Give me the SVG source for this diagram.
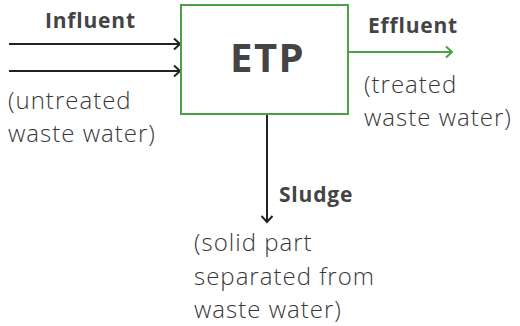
<svg xmlns="http://www.w3.org/2000/svg" width="520" height="326" viewBox="0 0 520 326">
<defs>
<style>
.lbl{font-family:"Open Sans","Noto Sans",sans-serif;font-weight:700;font-size:21px;letter-spacing:0.8px;fill:#444}
.desc{font-family:"Open Sans","Noto Sans",sans-serif;font-weight:300;font-size:24px;letter-spacing:1px;fill:#383838}
.title{font-family:"Open Sans","Noto Sans",sans-serif;font-weight:700;font-size:40px;letter-spacing:1.5px;fill:#444}
.ln{stroke:#222;stroke-width:2;fill:none}
.gln{stroke:#4ca146;stroke-width:2;fill:none}
</style>
<marker id="ah" markerUnits="userSpaceOnUse" markerWidth="12" markerHeight="14" refX="8" refY="7" orient="auto" viewBox="0 0 12 14">
<path d="M2,1.5 L8,7 L2,12.5" stroke="#222" stroke-width="2" fill="none"/>
</marker>
<marker id="ahg" markerUnits="userSpaceOnUse" markerWidth="12" markerHeight="14" refX="8" refY="7" orient="auto" viewBox="0 0 12 14">
<path d="M2,1.5 L8,7 L2,12.5" stroke="#4ca146" stroke-width="2" fill="none"/>
</marker>
</defs>
<rect width="520" height="326" fill="#fff"/>
<g id="connectors">
<line class="ln" x1="9" y1="44" x2="180" y2="44" marker-end="url(#ah)"/>
<line class="ln" x1="9" y1="71" x2="180" y2="71" marker-end="url(#ah)"/>
<line class="gln" x1="349" y1="52" x2="452" y2="52" marker-end="url(#ahg)"/>
<line class="ln" x1="267" y1="115" x2="267" y2="222" marker-end="url(#ah)"/>
</g>
<g id="etp">
<rect x="181" y="5" width="167" height="109" fill="#fff" stroke="#4ca146" stroke-width="2"/>
<text class="title" x="230" y="72">ETP</text>
</g>
<g id="influent">
<text class="lbl" x="45" y="28">Influent</text>
<text class="desc" x="8" y="109">(untreated</text>
<text class="desc" x="8" y="142">waste water)</text>
</g>
<g id="effluent">
<text class="lbl" x="368" y="33">Effluent</text>
<text class="desc" x="364" y="93">(treated</text>
<text class="desc" x="364" y="126">waste water)</text>
</g>
<g id="sludge">
<text class="lbl" x="279" y="202">Sludge</text>
<text class="desc" x="194" y="251">(solid part</text>
<text class="desc" x="194" y="285">separated from</text>
<text class="desc" x="194" y="318">waste water)</text>
</g>
</svg>
